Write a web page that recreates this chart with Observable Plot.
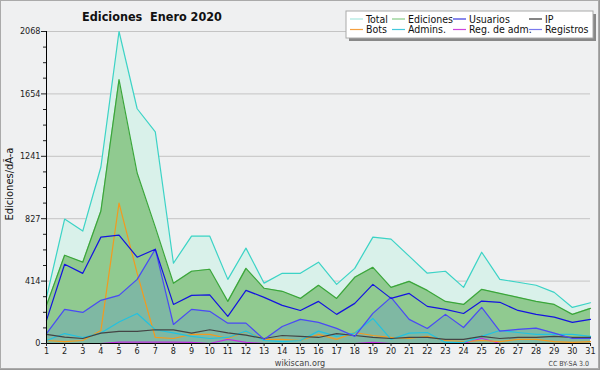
<!DOCTYPE html>
<html><head><meta charset="utf-8">
<script src="https://cdn.jsdelivr.net/npm/d3@7"></script>
<script src="https://cdn.jsdelivr.net/npm/@observablehq/plot@0.6"></script>
<style>
body{margin:0;background:#eff0f1}
#chart svg{display:block}
</style>
</head><body><div id="chart"></div>
<script>
const days = [1,2,3,4,5,6,7,8,9,10,11,12,13,14,15,16,17,18,19,20,21,22,23,24,25,26,27,28,29,30,31];
const total = [306,825,745,1170,2068,1556,1403,532,712,712,425,632,400,465,465,539,392,498,705,692,579,466,479,372,605,425,406,386,339,239,270];
const ediciones = [253,585,539,878,1749,1130,771,399,479,492,279,498,366,346,299,386,299,439,505,372,412,352,279,259,359,332,306,279,259,193,233];
const usuarios = [153,525,465,705,718,572,625,259,319,322,180,352,306,253,219,279,193,266,392,299,332,246,226,199,281,273,219,193,175,140,160];
const registros = [66,226,206,286,319,425,625,126,226,213,135,135,27,113,160,140,100,47,200,306,160,100,193,106,239,82,93,102,69,33,33];
const ip = [60,42,33,69,80,80,91,90,69,91,70,55,33,53,47,40,66,53,40,33,40,40,27,27,47,33,40,40,47,40,40];
const bots = [20,13,20,86,931,465,40,33,60,60,33,80,27,27,20,60,27,73,53,40,33,47,20,13,20,13,27,27,13,7,13];
const admins = [20,66,40,69,142,199,91,71,47,33,40,82,20,13,20,82,47,69,166,27,69,73,7,7,47,86,73,60,60,60,47];
const regadm = [0,0,0,0,9,9,9,9,7,0,27,7,0,0,0,0,0,0,7,0,0,0,0,0,35,0,0,0,0,0,0];

const yTicks = [0, 413.6, 827.2, 1240.8, 1654.4, 2068];
const yTickLabels = ["0","414","827","1241","1654","2068"];
const yMinorTicks = [103.4,206.8,310.2,517,620.4,723.8,930.6,1034,1137.4,1344.2,1447.6,1551,1758.8,1861.2,1964.6];

const seriesNames = ["Total","Ediciones","Usuarios","IP","Bots","Admins.","Reg. de adm.","Registros"];
const seriesColors = ["#3cd3c6","#3aa63a","#1414e0","#444444","#f39a1e","#22c2e0","#c030e0","#4a4af5"];
const seriesLegendColors = ["#a8e8df","#88cc88","#3a3ae0","#333333","#f5a040","#44c8dc","#cc44dd","#7a7aee"];

const data = days.map((d,i)=>({day:d,total:total[i],ediciones:ediciones[i],usuarios:usuarios[i],registros:registros[i],ip:ip[i],bots:bots[i],admins:admins[i],regadm:regadm[i]}));
const keys = ["total","ediciones","usuarios","ip","bots","admins","regadm","registros"];
const col = Object.fromEntries(keys.map((k,i)=>[k,seriesColors[i]]));

const FONT = "'DejaVu Sans Condensed','DejaVu Sans',sans-serif";

const lineOrder = ["regadm","bots","admins","ip","registros","usuarios","ediciones","total"];

const chart = Plot.plot({
  width: 600, height: 370,
  marginLeft: 46, marginRight: 10, marginTop: 31, marginBottom: 27,
  style: {fontFamily: FONT, fontSize: "9px", background: "#eff0f1", color: "#222"},
  x: {domain: [1,31], label: null},
  y: {domain: [0,2068], label: null},
  marks: [
    Plot.gridY(yTicks.slice(1), {stroke:"#c4c4c4", strokeOpacity:1, strokeWidth:1}),
    Plot.areaY(data, {x:"day", y:"total", fill:"#d9f1ea"}),
    Plot.areaY(data, {x:"day", y:"ediciones", fill:"#90ca90"}),
    Plot.areaY(data, {x:"day", y:"registros", fill:"#5a8fd0", fillOpacity:0.3}),
    ...lineOrder.map(k => Plot.lineY(data, {x:"day", y:k, stroke:col[k], strokeWidth:1.2})),
    Plot.ruleY([0], {stroke:"#000"}),
    Plot.ruleX([1], {stroke:"#000"}),
    Plot.axisX({ticks: days, tickFormat: d => String(d), tickSize: 3, tickPadding: 1, fontSize: 9, label: null}),
    Plot.axisY({ticks: yTicks, tickFormat: (d,i) => yTickLabels[i], tickSize: 5, tickPadding: 1, label: null}),
    Plot.axisY({ticks: yMinorTicks, tickFormat: () => "", tickSize: 3, label: null})
  ]
});
document.getElementById("chart").appendChild(chart);

const svg = d3.select(chart);
// title
svg.append("text").attr("x",152).attr("y",21).attr("text-anchor","middle")
  .attr("font-family",FONT).attr("font-weight","bold").attr("font-size",12.5)
  .style("white-space","pre").attr("fill","#111").text("Ediciones  Enero 2020");
// y label
svg.append("text").attr("transform","translate(13,184) rotate(-90)").attr("text-anchor","middle")
  .attr("font-family",FONT).attr("font-size",11).attr("fill","#111").text("Ediciones/dÃ-a");
// footer
svg.append("text").attr("x",300).attr("y",365.5).attr("text-anchor","middle")
  .attr("font-family",FONT).attr("font-size",9).attr("fill","#444").text("wikiscan.org");
svg.append("text").attr("x",589).attr("y",366).attr("text-anchor","end")
  .attr("font-family",FONT).attr("font-size",7).attr("fill","#444").text("CC BY-SA 3.0");
// legend
const lg = svg.append("g");
lg.append("rect").attr("x",349).attr("y",14).attr("width",247).attr("height",27).attr("fill","#888");
lg.append("rect").attr("x",346).attr("y",11).attr("width",247).attr("height",27).attr("fill","#fff").attr("stroke","#aaa");
const colX = [350,392,453,529];
const rowY = [19,29.5];
seriesNames.forEach((name,i)=>{
  const c = i % 4, r = Math.floor(i/4);
  lg.append("line").attr("x1",colX[c]).attr("x2",colX[c]+13).attr("y1",rowY[r]).attr("y2",rowY[r])
    .attr("stroke",seriesLegendColors[i]).attr("stroke-width",1.2);
  lg.append("text").attr("x",colX[c]+16).attr("y",rowY[r]+3.8).attr("text-anchor","start")
    .attr("font-family",FONT).attr("font-size",10.5).attr("fill","#111").text(name);
});
// outer border
svg.append("rect").attr("x",0.5).attr("y",0.5).attr("width",598).attr("height",368)
  .attr("fill","none").attr("stroke","#aaa");
svg.append("line").attr("x1",0).attr("x2",600).attr("y1",369.5).attr("y2",369.5).attr("stroke","#999");
svg.append("line").attr("x1",599.5).attr("x2",599.5).attr("y1",0).attr("y2",370).attr("stroke","#999");
</script>
</body></html>
